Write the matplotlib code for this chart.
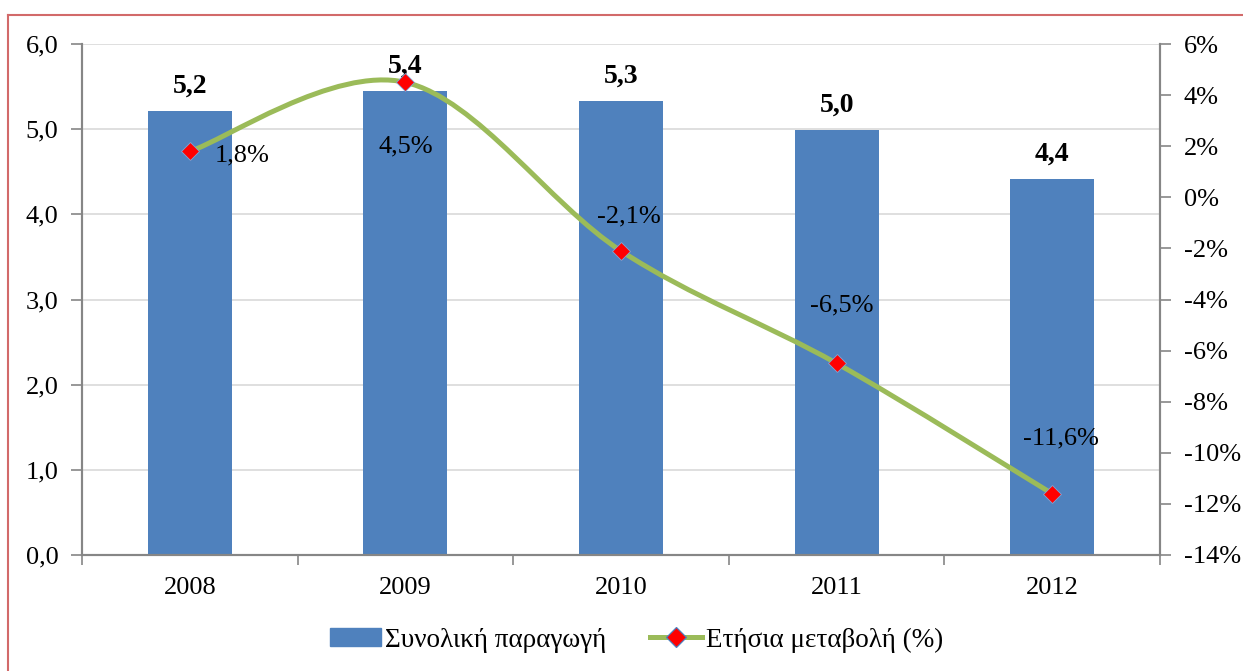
import matplotlib.pyplot as plt
from matplotlib.path import Path
from matplotlib.patches import PathPatch
from matplotlib.lines import Line2D
from matplotlib.ticker import FixedLocator

plt.rcParams["font.family"] = ["Liberation Serif", "DejaVu Serif"]

years = ["2008", "2009", "2010", "2011", "2012"]
production = [5.21, 5.45, 5.33, 4.99, 4.41]
prod_labels = ["5,2", "5,4", "5,3", "5,0", "4,4"]
change = [1.8, 4.5, -2.1, -6.5, -11.6]
change_labels = ["1,8%", "4,5%", "-2,1%", "-6,5%", "-11,6%"]

BAR_COLOR = "#4F81BD"
LINE_COLOR = "#9BBB59"
AXIS_COLOR = "#868686"
GRID_COLOR = "#D9D9D9"
FS = 19


def smooth_path(xs, ys):
    # Excel-like smoothed line: bezier segments through every point
    verts = [(xs[0], ys[0])]
    codes = [Path.MOVETO]
    n = len(xs)
    for i in range(n - 1):
        x0, y0 = (xs[i - 1], ys[i - 1]) if i > 0 else (xs[i], ys[i])
        x1, y1 = xs[i], ys[i]
        x2, y2 = xs[i + 1], ys[i + 1]
        x3, y3 = (xs[i + 2], ys[i + 2]) if i + 2 < n else (x2, y2)
        verts += [(x1 + (x2 - x0) / 6, y1 + (y2 - y0) / 6),
                  (x2 - (x3 - x1) / 6, y2 - (y3 - y1) / 6),
                  (x2, y2)]
        codes += [Path.CURVE4] * 3
    return Path(verts, codes)


fig = plt.figure(figsize=(12.43, 6.71), dpi=100)
ax = fig.add_axes([0.066, 0.1729, 0.8672, 0.7615])
ax2 = ax.twinx()

x = list(range(len(years)))
ax.bar(x, production, width=0.39, color=BAR_COLOR, zorder=2)
ax.set_xlim(-0.5, len(years) - 0.5)
ax.set_ylim(0, 6)
ax.set_yticks([0, 1, 2, 3, 4, 5, 6])
ax.set_yticklabels([f"{v:.1f}".replace(".", ",") for v in range(7)])
ax.yaxis.grid(True, color=GRID_COLOR, lw=1.2, zorder=0)
ax.set_axisbelow(True)
ax.set_xticks(x)
ax.set_xticklabels(years)
ax.xaxis.set_minor_locator(FixedLocator([i - 0.5 for i in range(len(years) + 1)]))
ax.tick_params(axis="x", which="major", length=0, pad=16, labelsize=FS)
ax.tick_params(axis="x", which="minor", length=7, direction="out", color=AXIS_COLOR, width=1.2)
ax.tick_params(axis="y", length=8, direction="out", color=AXIS_COLOR, width=1.2, pad=9, labelsize=FS)

for xi, v, lab in zip(x, production, prod_labels):
    ax.annotate(lab, (xi, v), xytext=(0, 18), textcoords="offset points",
                ha="center", va="center", fontsize=FS + 1, fontweight="bold", zorder=5)

ax2.set_ylim(-14, 6)
ax2.set_yticks(range(-14, 7, 2))
ax2.set_yticklabels([f"{v}%" for v in range(-14, 7, 2)])
ax2.tick_params(axis="y", length=8, direction="out", color=AXIS_COLOR, width=1.2, pad=9, labelsize=FS)

ax2.add_patch(PathPatch(smooth_path(x, change), facecolor="none", edgecolor=LINE_COLOR,
                        lw=3.6, capstyle="round", zorder=3))
ax2.plot(x, change, linestyle="none", marker="D", markersize=9, color="red",
         markeredgecolor="#7FA6D6", markeredgewidth=0.6, zorder=4)

offsets = [(38, -3), (0, -46), (6, 25), (4, 42), (6.5, 40)]
for xi, v, lab, (dx, dy) in zip(x, change, change_labels, offsets):
    ax2.annotate(lab, (xi, v), xytext=(dx, dy), textcoords="offset points",
                 ha="center", va="center", fontsize=FS, zorder=5)

for a in (ax, ax2):
    a.spines["top"].set_visible(False)
    for s in ("left", "right", "bottom"):
        a.spines[s].set_color(AXIS_COLOR)
        a.spines[s].set_linewidth(1.5)

handles = [plt.Rectangle((0, 0), 1, 1, color=BAR_COLOR),
           Line2D([], [], color=LINE_COLOR, lw=3.6, marker="D", markersize=10,
                  markerfacecolor="red", markeredgecolor="#4F81BD", markeredgewidth=0.9)]
fig.legend(handles, ["Συνολική παραγωγή", "Ετήσια μεταβολή (%)"], loc="center",
           bbox_to_anchor=(0.512, 0.046), ncol=2, frameon=False, fontsize=19.5,
           handlelength=1.9, handleheight=0.65, handletextpad=0.15, columnspacing=1.6)

# red frame around the chart area (continues past the right and bottom edges)
fig.add_artist(Line2D([8 / 1243, 1.0], [1 - 15 / 671, 1 - 15 / 671], color="#D26A6A", lw=1.5))
fig.add_artist(Line2D([8 / 1243, 8 / 1243], [0.0, 1 - 15 / 671], color="#D26A6A", lw=1.5))

fig.savefig("out.png", dpi=100)
